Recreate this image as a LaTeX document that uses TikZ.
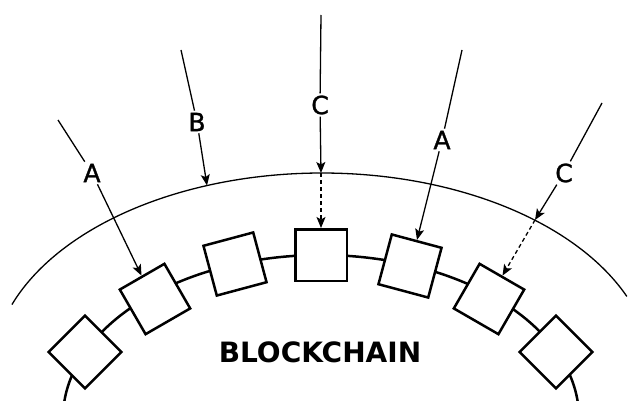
\documentclass[tikz,border=0pt]{standalone}
\usepackage{fontspec}
\setmainfont{DejaVu Sans}
\newfontfamily\labfont[FakeBold=1.2]{DejaVu Sans}
\usetikzlibrary{arrows.meta}
\begin{document}
\begin{tikzpicture}[x=1pt,y=-1pt,
  blk/.style={draw, line width=2.5pt, minimum size=51.5pt, inner sep=0pt, fill=white},
  chain/.style={line width=2.5pt},
  thinline/.style={line width=1.3pt},
  arr/.style={thinline, -{Stealth[length=11pt,width=9pt,inset=2.5pt]}},
  darr/.style={arr, dash pattern=on 4pt off 3pt},
  lab/.style={fill=white, inner sep=2pt, font=\labfont\fontsize{25}{25}\selectfont},
]
\useasboundingbox (0,0) rectangle (631,401);
\clip (0,0) rectangle (631,401);

% outer arc
\draw[thinline] plot[domain=22.5:160, samples=140] ({322+330*cos(\x)},{373-200*sin(\x)});
% inner chain arc
\draw[chain] plot[domain=0:180, samples=180] ({321+258*cos(\x)},{418-163*sin(\x)});

% blocks
\node[blk, rotate=45]  (s1) at (85,352) {};
\node[blk, rotate=30]  (s2) at (155,299) {};
\node[blk, rotate=15]  (s3) at (235,264) {};
\node[blk]             (s4) at (321,255) {};
\node[blk, rotate=-15] (s5) at (410,266) {};
\node[blk, rotate=-30] (s6) at (489,299) {};
\node[blk, rotate=-45] (s7) at (556,352) {};

\node[font=\bfseries\fontsize{28}{28}\selectfont] (bc) at (320,352) {BLOCKCHAIN};

% start points and arc hit points
\coordinate (pa1) at (58,120);
\coordinate (pb)  at (181,50);
\coordinate (pc1) at (321,15);
\coordinate (pa2) at (462,50);
\coordinate (pc2) at (602,103);
\coordinate (hb)  at (207,185.5);
\coordinate (hc1) at (321,173);
\coordinate (hc2) at (535,220);

% labels
\node[lab] (la1) at (92,173) {A};
\node[lab] (lb)  at (197,122) {B};
\node[lab] (lc1) at (320,105) {C};
\node[lab] (la2) at (442,140) {A};
\node[lab] (lc2) at (564,173) {C};

% connectors
\draw[thinline] (pa1) -- (la1);
\draw[arr] (la1) -- (s2.north);
\draw[thinline] (pb) -- (lb);
\draw[arr] (lb) -- (hb);
\draw[thinline] (pc1) -- (lc1);
\draw[arr] (lc1) -- (hc1);
\draw[darr] (hc1) -- (s4.north);
\draw[thinline] (pa2) -- (la2);
\draw[arr] (la2) -- (s5.north);
\draw[thinline] (pc2) -- (lc2);
\draw[arr] (lc2) -- (hc2);
\draw[darr] (hc2) -- (s6.north);
\end{tikzpicture}
\end{document}
